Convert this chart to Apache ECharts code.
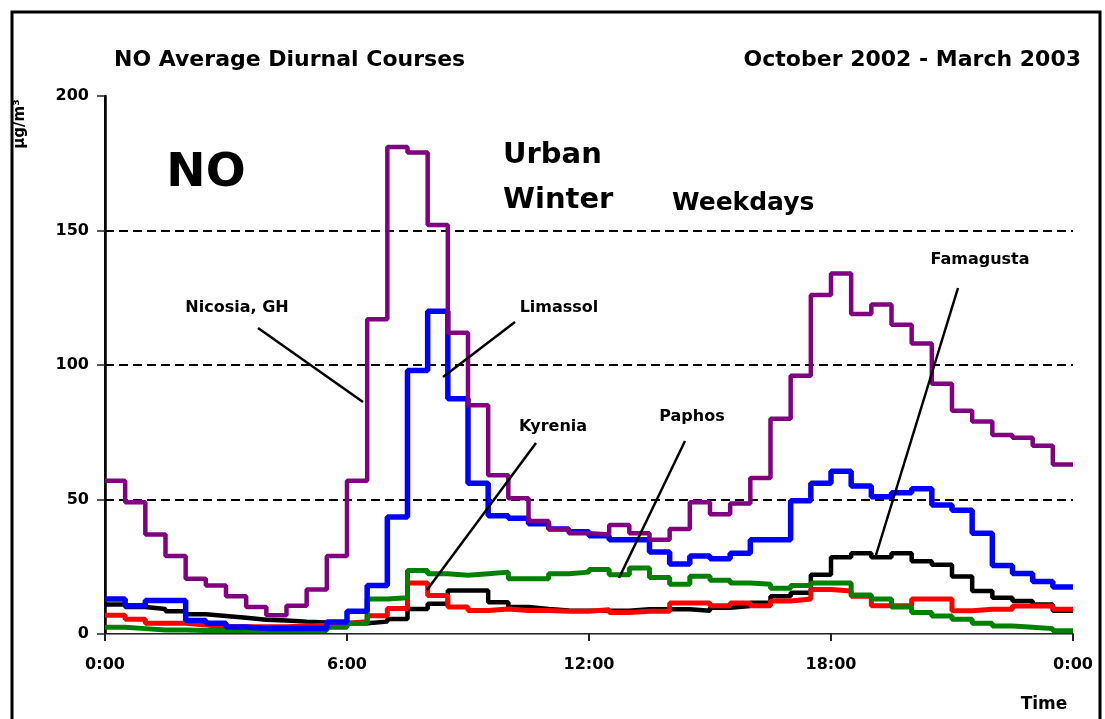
<!DOCTYPE html>
<html lang="en" style="height: 100%">
<head>
  <meta charset="utf-8">
  <script src="https://cdn.jsdelivr.net/npm/echarts@6/dist/echarts.min.js"></script>
</head>
<body style="height: 100%; margin: 0; background: #fff">
  <div id="container" style="height: 100%"></div>

  <script type="text/javascript">
    // half-hourly mean NO (ug/m3), steps start at 0:00, 0:30, ... 23:30
    var nicosia = [57, 49, 37, 29, 20.5, 18, 14, 10, 7, 10.5, 16.5, 29,
      57, 117, 181, 179, 152, 112, 85, 59, 50.5, 42, 39, 37.5,
      37, 40.5, 37.5, 35, 39, 49, 44.5, 48.5, 58, 80, 96, 126,
      134, 119, 122.5, 115, 108, 93, 83, 79, 74, 73, 70, 63];
    var limassol = [13, 10.5, 12.5, 12.5, 5, 4, 2.6, 2, 2, 2, 2, 4.5,
      8.5, 18, 43.5, 98, 120, 87.5, 56, 44, 43, 41, 39, 38,
      36.5, 35, 35, 30.5, 26, 29, 28, 30, 35, 35, 49.5, 56,
      60.5, 55, 51, 52.5, 54, 48, 46, 37.5, 25.5, 22.5, 19.5, 17.5];
    var kyrenia = [7, 5.5, 4, 4, 3.3, 2.7, 2.7, 2.7, 2.7, 3, 3.3, 4,
      4.6, 6.8, 9.5, 19, 14.3, 10, 8.7, 9.3, 8.7, 8.7, 8.5, 8.5,
      9, 8, 8.5, 8.5, 11.5, 11.5, 10.5, 11.5, 10.5, 12.3, 13, 16.5,
      16, 14, 10.5, 10.5, 13, 13, 8.6, 9.2, 9.2, 10.4, 10.4, 9.2];
    var paphos = [2.5, 2, 1.5, 1.5, 1.3, 1.3, 1.3, 1.3, 1.3, 1.3, 1.3, 2.5,
      4, 13, 13.5, 23.6, 22.4, 21.8, 22.4, 23, 20.5, 20.5, 22.4, 23,
      24, 22, 24.5, 21, 18.5, 21.5, 20, 19, 18.5, 17, 18, 19,
      19, 14.5, 13, 10, 8, 6.7, 5.5, 4, 3, 2.5, 2, 1.2];
    var famagusta = [11, 10, 9.3, 8.5, 7.3, 6.7, 6, 5.3, 5, 4.6, 4.3, 4,
      4, 4.6, 5.6, 9.3, 11.2, 16.2, 16.2, 11.8, 10, 9.3, 8.7, 8.6,
      8.6, 8.6, 9.2, 9.2, 9.2, 8.6, 9.8, 10.4, 11.6, 14, 15.3, 22,
      28.5, 30, 28.5, 30, 27, 25.7, 21.4, 16, 13.5, 12.3, 11, 8.6];

    var hourTicks = ['0:00', '6:00', '12:00', '18:00', '0:00'];
    var yTicks = [0, 50, 100, 150, 200];

    function steps(vals) {
      var d = vals.map(function (v, i) { return [i / 2, v]; });
      d.push([24, vals[vals.length - 1]]);
      return d;
    }

    var dom = document.getElementById('container');
    var myChart = echarts.init(dom, null, { renderer: 'canvas' });

    var bold = { fontFamily: 'DejaVu Sans', fontWeight: 'bold', fill: '#000' };
    function txt(str, x, y, size, align) {
      return {
        type: 'text', x: x, y: y, z: 60,
        style: Object.assign({ text: str, fontSize: size, textAlign: align || 'center', textVerticalAlign: 'middle' }, bold)
      };
    }
    function ln(x1, y1, x2, y2) {
      return {
        type: 'line', z: 50,
        shape: { x1: x1, y1: y1, x2: x2, y2: y2 },
        style: { stroke: '#000', lineWidth: 2.5 }
      };
    }

    function ser(name, vals, color, w) {
      return {
        name: name, type: 'line', step: 'end',
        data: steps(vals), showSymbol: false, symbol: 'none',
        lineStyle: { color: color, width: w }, itemStyle: { color: color }
      };
    }

    var labelFont = { fontFamily: 'DejaVu Sans', fontWeight: 'bold', fontSize: 16, color: '#000' };

    var option = {
      animation: false,
      grid: { left: 105, right: 32, top: 96, bottom: 85 },
      xAxis: [{
        type: 'value', min: 0, max: 24, interval: 6,
        axisLine: { lineStyle: { color: '#222', width: 2 } },
        axisTick: { length: 7, lineStyle: { color: '#222', width: 2 } },
        splitLine: { show: false },
        axisLabel: Object.assign({
          margin: 23,
          formatter: function (v) { return hourTicks[v / 6]; }
        }, labelFont)
      }, {
        type: 'value', min: 0, max: 24, position: 'top',
        axisLine: { show: true, lineStyle: { color: '#888', width: 1 } },
        axisTick: { show: false }, axisLabel: { show: false }, splitLine: { show: false }
      }],
      yAxis: [{
        type: 'value', min: 0, max: 200, interval: 50,
        axisLine: { show: true, lineStyle: { color: '#222', width: 2 } },
        axisTick: { show: true, length: 8, lineStyle: { color: '#222', width: 1.5 } },
        splitLine: { lineStyle: { type: [9, 5], width: 1.8, color: ['transparent', '#000', '#000', '#000', 'transparent'] } },
        axisLabel: Object.assign({
          margin: 16,
          formatter: function (v) { return yTicks.indexOf(v) >= 0 ? String(v) : ''; }
        }, labelFont)
      }, {
        type: 'value', min: 0, max: 200, position: 'right',
        axisLine: { show: true, lineStyle: { color: '#000', width: 2.5 } },
        axisTick: { show: false }, axisLabel: { show: false }, splitLine: { show: false }
      }],
      series: [
        ser('Famagusta', famagusta, '#000000', 4.5),
        ser('Kyrenia', kyrenia, '#ff0000', 5),
        ser('Paphos', paphos, '#008000', 5),
        ser('Limassol', limassol, '#0000ff', 5.5),
        ser('Nicosia, GH', nicosia, '#800080', 4.5)
      ],
      graphic: [
        { type: 'rect', shape: { x: 12, y: 12, width: 1088, height: 760 }, style: { fill: null, stroke: '#000', lineWidth: 3 } },
        txt('NO Average Diurnal Courses', 114, 60, 22, 'left'),
        txt('October 2002 - March 2003', 1081, 60, 22, 'right'),
        txt('NO', 206, 174, 47),
        txt('Urban', 503, 155, 29, 'left'),
        txt('Winter', 503, 200, 29, 'left'),
        txt('Weekdays', 672, 203, 25, 'left'),
        txt('Time', 1044, 705, 17),
        {
          type: 'text', x: 20, y: 124, rotation: Math.PI / 2, z: 60,
          style: Object.assign({ text: 'μg/m³', fontSize: 15, textAlign: 'center', textVerticalAlign: 'middle' }, bold)
        },
        txt('Nicosia, GH', 237, 308, 16),
        ln(258, 328, 363, 402),
        txt('Limassol', 559, 308, 16),
        ln(515, 322, 443, 377),
        txt('Kyrenia', 553, 427, 16),
        ln(536, 443, 427, 590),
        txt('Paphos', 692, 417, 16),
        ln(685, 441, 619, 578),
        txt('Famagusta', 980, 260, 16),
        ln(958, 288, 876, 555)
      ]
    };

    myChart.setOption(option);
    window.addEventListener('resize', myChart.resize);
  </script>
</body>
</html>
